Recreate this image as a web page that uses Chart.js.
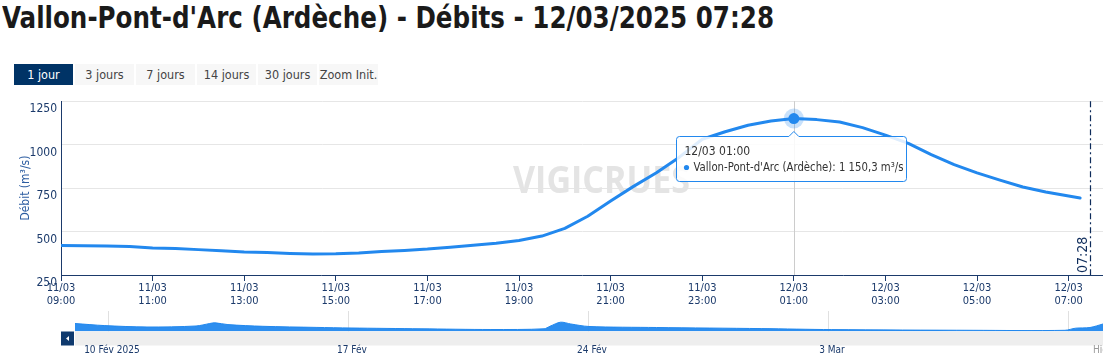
<!DOCTYPE html>
<html><head><meta charset="utf-8">
<script src="https://cdn.jsdelivr.net/npm/chart.js@4.4.1/dist/chart.umd.min.js"></script>
<style>
html,body{margin:0;padding:0;background:#fff;width:1103px;height:357px;overflow:hidden;font-family:"Liberation Sans Narrow","DejaVu Sans Condensed","Open Sans",sans-serif;}
#title{position:absolute;left:2px;top:0px;font-weight:700;font-size:30px;line-height:36px;color:#1a1a1a;white-space:nowrap;transform-origin:0 0;}
.btn{position:absolute;top:64px;height:21px;width:59px;background:#f7f7f7;color:#444;font-size:12.5px;line-height:21px;text-align:center;}
.btn.sel{background:#003366;color:#fff;}
#main{position:absolute;left:0;top:90px;}
#nav{position:absolute;left:0;top:305px;}
</style></head>
<body>
<div id="title">Vallon-Pont-d'Arc (Ardèche) - Débits - 12/03/2025 07:28</div>
<div class="btn sel" style="left:14px">1 jour</div>
<div class="btn" style="left:75px">3 jours</div>
<div class="btn" style="left:136px">7 jours</div>
<div class="btn" style="left:197px">14 jours</div>
<div class="btn" style="left:258px">30 jours</div>
<div class="btn" style="left:319px">Zoom Init.</div>
<canvas id="main" width="1103" height="220"></canvas>
<canvas id="nav" width="1103" height="52"></canvas>
<script>
// ---- data ----
const seriesName = "Vallon-Pont-d'Arc (Ardèche)";
const unit = "m³/s";
const times = [
 "11/03 09:00","11/03 09:30","11/03 10:00","11/03 10:30","11/03 11:00","11/03 11:30",
 "11/03 12:00","11/03 12:30","11/03 13:00","11/03 13:30","11/03 14:00","11/03 14:30",
 "11/03 15:00","11/03 15:30","11/03 16:00","11/03 16:30","11/03 17:00","11/03 17:30",
 "11/03 18:00","11/03 18:30","11/03 19:00","11/03 19:30","11/03 20:00","11/03 20:30",
 "11/03 21:00","11/03 21:30","11/03 22:00","11/03 22:30","11/03 23:00","11/03 23:30",
 "12/03 00:00","12/03 00:30","12/03 01:00","12/03 01:30","12/03 02:00","12/03 02:30",
 "12/03 03:00","12/03 03:30","12/03 04:00","12/03 04:30","12/03 05:00","12/03 05:30",
 "12/03 06:00","12/03 06:30","12/03 07:00","12/03 07:15"];
const flow = [
 420,419,417,414,406,403,
 396,389,382,379,374,371,
 372,377,385,391,399,410,
 421,433,449,474,518,588,
 676,760,838,928,1031,1074,
 1112,1136,1150.3,1144,1130,1098,
 1055,1007,943,885,838,796,
 756,728,704,693];
const tickLabels = ["11/03 09:00","11/03 11:00","11/03 13:00","11/03 15:00","11/03 17:00","11/03 19:00",
 "11/03 21:00","11/03 23:00","12/03 01:00","12/03 03:00","12/03 05:00","12/03 07:00"];
const yTicks = [250,500,750,1000,1250];
const axisEnd = "12/03 07:45";
const nowLabel = "12/03 07:28";
const tooltipTime = "12/03 01:00";

// navigator (days since 10 Fév 00:00)
const navDays = [-0.96,-0.09,1.14,2.57,2.97,3.12,3.5,4.52,6.07,7.09,9.13,11.17,12.72,12.89,13.2,13.5,14.03,16,19.07,21.11,25.23,27.91,28.22,28.64,29.02];
const navFlow = [780,576,439,537,780,849,673,507,400,342,264,195,264,507,908,732,488,390,283,185,117,117,322,390,732];
const navLabels = ["10 Fév 2025","17 Fév","24 Fév","3 Mar"];
const navGridDays = [0,7,14,21,28];

// ---- helpers ----
const NAVY = '#1b3a6b';
const BLUE = '#2288ee';
const FONT = '"Liberation Sans Narrow","DejaVu Sans Condensed","Open Sans",sans-serif';
function toH(s){const [d,t]=s.split(' ');const day=+d.split('/')[0];const [hh,mm]=t.split(':').map(Number);return (day-11)*24+hh-9+mm/60;}
function fmt(v){const p=v.toFixed(1).split('.');return p[0].replace(/\B(?=(\d{3})+(?!\d))/g,' ')+','+p[1];}
function fitText(ctx,text,x,y,w){const m=ctx.measureText(text).width;ctx.save();ctx.translate(x,y);ctx.scale(w/m,1);ctx.fillText(text,0,0);ctx.restore();}

// title fit
const tEl=document.getElementById('title');
const tw=tEl.getBoundingClientRect().width; tEl.style.transform='scaleX('+(772/tw)+')';

const pts = times.map((t,i)=>({x:toH(t),y:flow[i]}));

const mainPlugin = {
 id:'decor',
 beforeDatasetsDraw(chart){
  const {ctx,chartArea:a,scales:{x,y}}=chart;
  ctx.save();ctx.fillStyle='#e4e4e4';ctx.font='bold 38px "Open Sans",sans-serif';ctx.textBaseline='alphabetic';
  fitText(ctx,'VIGICRUES',513,y.top+92,177);
  ctx.restore();
  const px=x.getPixelForValue(toH(tooltipTime));
  ctx.save();ctx.strokeStyle='#cccccc';ctx.lineWidth=1;ctx.beginPath();ctx.moveTo(Math.round(px)+0.5,a.top);ctx.lineTo(Math.round(px)+0.5,a.bottom);ctx.stroke();ctx.restore();
 },
 afterDatasetsDraw(chart){
  const {ctx,chartArea:a,scales:{x,y}}=chart;
  const nx=Math.round(x.getPixelForValue(toH(nowLabel)))+0.5;
  ctx.save();ctx.strokeStyle='#0d2b5a';ctx.lineWidth=1.2;ctx.setLineDash([6,3,2,3]);
  ctx.beginPath();ctx.moveTo(nx,a.top);ctx.lineTo(nx,a.bottom);ctx.stroke();ctx.setLineDash([]);
  ctx.translate(nx-4,a.bottom-2);ctx.rotate(-Math.PI/2);ctx.fillStyle='#0d2b5a';ctx.font='14px '+FONT;ctx.textAlign='left';ctx.textBaseline='alphabetic';
  ctx.fillText(nowLabel.split(' ')[1],0,0);ctx.restore();
  const i=times.indexOf(tooltipTime);
  const px=x.getPixelForValue(toH(times[i])), py=y.getPixelForValue(flow[i]);
  ctx.save();
  ctx.fillStyle='rgba(34,136,238,0.25)';ctx.beginPath();ctx.arc(px,py,10,0,Math.PI*2);ctx.fill();
  ctx.fillStyle=BLUE;ctx.beginPath();ctx.arc(px,py,5.5,0,Math.PI*2);ctx.fill();
  const L=Math.round(px-118)+0.5, T=Math.round(py+17)+0.5, W=230, H=45, r=3;
  ctx.beginPath();
  ctx.moveTo(L+r,T);ctx.lineTo(px-5,T);ctx.lineTo(px,T-5);ctx.lineTo(px+5,T);ctx.lineTo(L+W-r,T);
  ctx.arcTo(L+W,T,L+W,T+r,r);ctx.lineTo(L+W,T+H-r);ctx.arcTo(L+W,T+H,L+W-r,T+H,r);
  ctx.lineTo(L+r,T+H);ctx.arcTo(L,T+H,L,T+H-r,r);ctx.lineTo(L,T+r);ctx.arcTo(L,T,L+r,T,r);ctx.closePath();
  ctx.fillStyle='rgba(255,255,255,0.85)';ctx.fill();ctx.strokeStyle=BLUE;ctx.lineWidth=1;ctx.stroke();
  ctx.fillStyle='#333';ctx.font='12px '+FONT;ctx.textBaseline='middle';ctx.textAlign='left';
  ctx.fillText(times[i],L+8,T+15.5);
  ctx.fillStyle=BLUE;ctx.beginPath();ctx.arc(L+10,T+31,2.6,0,Math.PI*2);ctx.fill();
  ctx.fillStyle='#333';
  fitText(ctx,seriesName+': '+fmt(flow[i])+' '+unit,L+17,T+31,210);
  ctx.restore();
 }
};

new Chart(document.getElementById('main'),{
 type:'line',
 data:{datasets:[{data:pts,borderColor:BLUE,borderWidth:3,pointRadius:0,tension:0,fill:false,borderJoinStyle:'round',borderCapStyle:'round'}]},
 options:{
  responsive:false,animation:false,events:[],
  layout:{padding:{top:8,left:0,right:0,bottom:0}},
  plugins:{legend:{display:false},tooltip:{enabled:false}},
  scales:{
   x:{type:'linear',min:0,max:toH(axisEnd),
    afterBuildTicks:s=>{s.ticks=tickLabels.map(t=>({value:toH(t)}));},
    afterFit:s=>{s.height=35;},
    ticks:{autoSkip:false,maxRotation:0,minRotation:0,padding:1,color:NAVY,font:{size:11,family:FONT,lineHeight:1.15},
     callback:v=>{const l=tickLabels.find(t=>Math.abs(toH(t)-v)<1e-6);return l?l.split(' '):'';}},
    grid:{drawOnChartArea:false,drawTicks:true,tickLength:6,color:NAVY},
    border:{color:NAVY,width:1}
   },
   y:{min:250,max:1250,
    afterBuildTicks:s=>{s.ticks=yTicks.map(v=>({value:v}));},
    afterFit:s=>{s.width=61;},
    ticks:{labelOffset:8,padding:4,color:NAVY,font:{size:12,family:FONT},callback:v=>String(v)},
    grid:{color:'#e6e6e6',drawTicks:false,lineWidth:c=>c.tick&&c.tick.value===250?0:1},
    border:{color:NAVY,width:1},
    title:{display:true,text:'Débit (m³/s)',color:'#2d5da1',font:{size:12,family:FONT},padding:{top:19,bottom:0}}
   }
  }
 },
 plugins:[mainPlugin]
});

const navPlugin={
 id:'navdecor',
 beforeDatasetsDraw(chart){
  const {ctx,chartArea:a,scales:{x}}=chart;
  ctx.save();ctx.strokeStyle='#e0e0e0';ctx.lineWidth=1;
  navGridDays.forEach(d=>{const gx=Math.round(x.getPixelForValue(d))+0.5;ctx.beginPath();ctx.moveTo(gx,a.top);ctx.lineTo(gx,a.bottom);ctx.stroke();});
  ctx.restore();
 },
 afterDraw(chart){
  const {ctx,chartArea:a,scales:{x}}=chart;
  ctx.save();
  ctx.fillStyle='#eeeeee';ctx.fillRect(a.left,a.bottom,a.right-a.left,14);
  ctx.fillStyle='#0f3a6e';ctx.fillRect(61,a.bottom,13,14);
  ctx.fillStyle='#fff';ctx.beginPath();ctx.moveTo(66,a.bottom+7);ctx.lineTo(69,a.bottom+4.5);ctx.lineTo(69,a.bottom+9.5);ctx.closePath();ctx.fill();
  ctx.fillStyle=NAVY;ctx.font='10px '+FONT;ctx.textAlign='center';ctx.textBaseline='middle';
  navLabels.forEach((l,i)=>{const gx=x.getPixelForValue(navGridDays[i])+4;ctx.fillText(l,gx,a.bottom+19);});
  ctx.fillStyle='#999';ctx.textAlign='left';ctx.font='10px '+FONT;ctx.fillText('Highcharts.com',1093,a.bottom+19);
  ctx.restore();
 }
};

new Chart(document.getElementById('nav'),{
 type:'line',
 data:{datasets:[{data:navDays.map((d,i)=>({x:d,y:navFlow[i]})),borderColor:BLUE,borderWidth:1,backgroundColor:'rgba(34,136,238,0.95)',fill:'origin',pointRadius:0,tension:0.3}]},
 options:{
  responsive:false,animation:false,events:[],
  layout:{padding:{top:6,left:75,right:0,bottom:25.5}},
  plugins:{legend:{display:false},tooltip:{enabled:false}},
  scales:{x:{type:'linear',display:false,min:navDays[0],max:navDays[navDays.length-1]},
          y:{display:false,min:0,max:2000}}
 },
 plugins:[navPlugin]
});
</script>
</body></html>
